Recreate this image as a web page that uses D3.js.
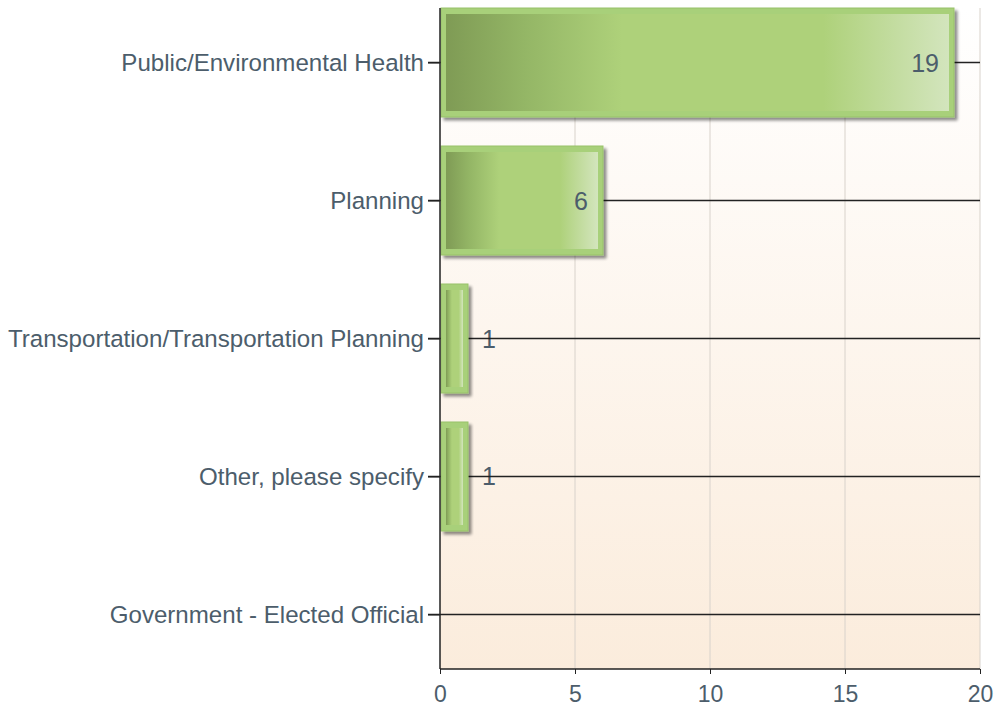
<!DOCTYPE html>
<html><head><meta charset="utf-8">
<script src="https://cdn.jsdelivr.net/npm/d3@7"></script>
<style>html,body{margin:0;padding:0;background:#fff;}svg{display:block;}</style>
</head><body>
<svg id="chart" width="995" height="706"></svg>
<script>
const categories = ["Public/Environmental Health","Planning","Transportation/Transportation Planning","Other, please specify","Government - Elected Official"];
const values = [19, 6, 1, 1, 0];
const xTicks = [0, 5, 10, 15, 20];

const svg = d3.select("#chart");
const M = {left: 440, right: 980, top: 8, bottom: 669};
const x = d3.scaleLinear().domain([0, 20]).range([M.left, M.right]);
const y = d3.scalePoint().domain(categories).range([M.top, M.bottom]).padding(0.395);
const barH = 109;
const textColor = "#4c5d6b";
const font = "'Liberation Sans', Arial, sans-serif";

const defs = svg.append("defs");
const bg = defs.append("linearGradient").attr("id","bg").attr("x1",0).attr("y1",0).attr("x2",0).attr("y2",1);
bg.append("stop").attr("offset","0%").attr("stop-color","#ffffff");
bg.append("stop").attr("offset","100%").attr("stop-color","#fbecdc");
const bg2 = defs.append("linearGradient").attr("id","barg").attr("x1",0).attr("y1",0).attr("x2",1).attr("y2",0);
[["0%","#7f9b55"],["15%","#93b565"],["35%","#aed17a"],["75%","#aed17a"],["100%","#d3e5bd"]].forEach(s=>
  bg2.append("stop").attr("offset",s[0]).attr("stop-color",s[1]));
const f = defs.append("filter").attr("id","sh").attr("x","-10%").attr("y","-10%").attr("width","130%").attr("height","130%");
f.append("feGaussianBlur").attr("in","SourceAlpha").attr("stdDeviation",1.5);
f.append("feOffset").attr("dx",3).attr("dy",3).attr("result","ob");
f.append("feComponentTransfer").append("feFuncA").attr("type","linear").attr("slope",0.45);
const fm = f.append("feMerge"); fm.append("feMergeNode"); fm.append("feMergeNode").attr("in","SourceGraphic");

svg.append("rect").attr("x",M.left).attr("y",M.top).attr("width",M.right-M.left).attr("height",M.bottom-M.top).attr("fill","url(#bg)");

// vertical gridlines
svg.append("g").selectAll("line").data(xTicks.filter(t=>t>0)).join("line")
  .attr("x1",d=>x(d)).attr("x2",d=>x(d)).attr("y1",M.top).attr("y2",M.bottom)
  .attr("stroke","#d8d2cb").attr("stroke-width",1);

// outside value labels (behind category lines)
const data = categories.map((c,i)=>({c, v: values[i]}));
const barW = d => x(d.v) - x(0);
svg.append("g").selectAll("text").data(data.filter(d=>d.v>0 && barW(d) < 60)).join("text")
  .attr("x", d=>x(d.v)+15).attr("y", d=>y(d.c)+9)
  .attr("font-family",font).attr("font-size",25).attr("fill",textColor).text(d=>d.v);

// category lines
svg.append("g").selectAll("line").data(categories).join("line")
  .attr("x1",M.left-12).attr("x2",M.right).attr("y1",d=>y(d)).attr("y2",d=>y(d))
  .attr("stroke","#222").attr("stroke-width",1.3);

// bars
const bars = svg.append("g").selectAll("g").data(data.filter(d=>d.v>0)).join("g");
bars.append("rect").attr("x",x(0)+1).attr("y",d=>y(d.c)-barH/2).attr("width",d=>barW(d)).attr("height",barH)
  .attr("fill","#a8d07a").attr("stroke","#98c26a").attr("stroke-width",1).attr("filter","url(#sh)");
bars.append("rect").attr("x",x(0)+6).attr("y",d=>y(d.c)-barH/2+6).attr("width",d=>barW(d)-10).attr("height",barH-12)
  .attr("fill","url(#barg)");

// inside labels
svg.append("g").selectAll("text").data(data.filter(d=>d.v>0 && barW(d) >= 60)).join("text")
  .attr("x", d=>x(d.v)-14).attr("y", d=>y(d.c)+9).attr("text-anchor","end")
  .attr("font-family",font).attr("font-size",25).attr("fill",textColor).text(d=>d.v);

// axes
svg.append("line").attr("x1",M.left).attr("x2",M.left).attr("y1",M.top).attr("y2",M.bottom).attr("stroke","#222").attr("stroke-width",1.5);
svg.append("line").attr("x1",M.left).attr("x2",M.right).attr("y1",M.bottom).attr("y2",M.bottom).attr("stroke","#222").attr("stroke-width",1.5);

const xAxis = svg.append("g").attr("transform",`translate(0,${M.bottom})`)
  .call(d3.axisBottom(x).tickValues(xTicks).tickSize(5).tickPadding(12));
xAxis.select(".domain").remove();
xAxis.selectAll("line").attr("stroke","#222");
xAxis.selectAll("text").attr("font-family",font).attr("font-size",23).attr("fill",textColor);

const yAxis = svg.append("g").attr("transform",`translate(${M.left},0)`)
  .call(d3.axisLeft(y).tickSize(12).tickPadding(4));
yAxis.select(".domain").remove();
yAxis.selectAll("line").attr("stroke","#222");
yAxis.selectAll("text").attr("font-family",font).attr("font-size",24.1).attr("fill",textColor);
</script>
</body></html>
